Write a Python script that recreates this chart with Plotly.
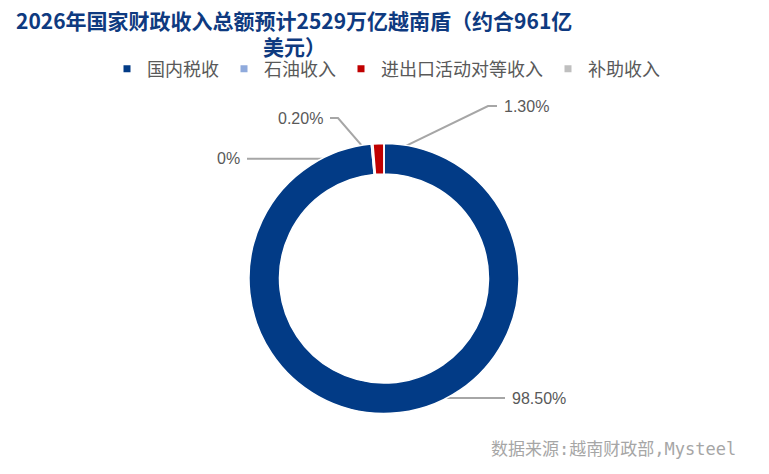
import numpy as np
import plotly.graph_objects as go

# 2026年越南国家财政收入构成（%）
labels = ["国内税收", "石油收入", "进出口活动对等收入", "补助收入"]
values = [98.5, 0.2, 1.3, 0.0]
pct_text = ["98.50%", "0.20%", "1.30%", "0%"]
colors = ["#023B86", "#8FAADC", "#C00000", "#BFBFBF"]

title_lines = ["2026年国家财政收入总额预计2529万亿越南盾（约合961亿", "美元）"]
source = "数据来源:越南财政部,Mysteel"

W, H = 769, 474
cx, cy = 384, 278.5          # donut centre in px
r_out, r_in = 135, 104.5
r_mid = (r_out + r_in) / 2

# leader line elbows (px) and where the label text sits
label_elbow = [[(505, None)], [(338, 118), (330, 118)], [(488, 106), (497, 106)], [(247, None)]]
label_side = ["left", "right", "left", "right"]

fig = go.Figure()

fig.add_trace(go.Pie(
    labels=labels, values=values, sort=False, direction="clockwise", rotation=0,
    hole=r_in / r_out, textinfo="none", hoverinfo="label+percent",
    marker=dict(colors=colors, line=dict(color="white", width=1.5)),
    domain=dict(x=[(cx - r_out) / W, (cx + r_out) / W],
                y=[(H - cy - r_out) / H, (H - cy + r_out) / H]),
    showlegend=False,
))

# legend entries (small square markers like the original)
for name, c in zip(labels, colors):
    fig.add_trace(go.Scatter(x=[None], y=[None], mode="markers", name=name,
                             marker=dict(symbol="square", size=7, color=c)))

# leader lines + percent labels, anchored at the middle of each slice
total = sum(values)
start = np.cumsum([0] + values[:-1]) / total * 360
mid = np.radians(start + np.array(values) / total * 180)
annots = []
for i in range(len(values)):
    ax = cx + r_mid * np.sin(mid[i])
    ay = cy - r_mid * np.cos(mid[i])
    xs, ys = [ax], [ay]
    for ex, ey in label_elbow[i]:
        xs.append(ex)
        ys.append(ay if ey is None else ey)
    fig.add_trace(go.Scatter(x=xs, y=ys, mode="lines", showlegend=False, hoverinfo="skip",
                             line=dict(color="#A6A6A6", width=2)))
    off = 5 if label_side[i] == "left" else -5
    annots.append(dict(x=xs[-1] + off, y=ys[-1], xref="x", yref="y", text=pct_text[i],
                       showarrow=False, xanchor=label_side[i], yanchor="middle",
                       font=dict(family="Liberation Sans", size=16, color="#595959")))

# title in two lines, placed separately to keep the tight line gap of the original
for txt, ty in zip(title_lines, [20, 46]):
    annots.append(dict(x=294 / W, y=1 - ty / H, xref="paper", yref="paper", text="<b>" + txt + "</b>",
                       showarrow=False, xanchor="center", yanchor="middle",
                       font=dict(family="Noto Sans CJK SC", size=21, color="#0E3A80")))
annots.append(dict(x=738 / W, y=1 - 449 / H, xref="paper", yref="paper", text=source,
                   showarrow=False, xanchor="right", yanchor="middle",
                   font=dict(family="DejaVu Sans Mono, Noto Sans CJK SC", size=17, color="#A6A6A6")))

fig.update_layout(
    width=W, height=H,
    margin=dict(l=0, r=0, t=0, b=0),
    paper_bgcolor="white", plot_bgcolor="rgba(0,0,0,0)",
    xaxis=dict(range=[0, W], visible=False, fixedrange=True),
    yaxis=dict(range=[H, 0], visible=False, fixedrange=True),
    legend=dict(orientation="h", x=386 / W, xanchor="center", y=1 - 69 / H, yanchor="middle",
                font=dict(family="Noto Sans CJK SC", size=18, color="#595959"),
                itemwidth=30, bgcolor="rgba(0,0,0,0)"),
    annotations=annots,
)

# page body has a default 8px margin, drop it so the figure sits at 0,0
fig.write_html("out.html", config={"displayModeBar": False},
               post_script="document.body.style.margin='0';")
